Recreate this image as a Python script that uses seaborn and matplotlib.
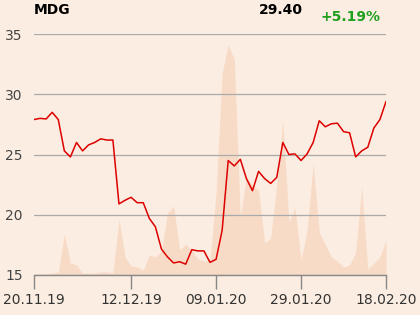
import matplotlib
matplotlib.use("Agg")
import matplotlib.pyplot as plt
import seaborn as sns
import pandas as pd

ticker = "MDG"
last_price = "29.40"
change = "+5.19%"

tick_labels = ["20.11.19", "12.12.19", "09.01.20", "29.01.20", "18.02.20"]
tick_pos = [0, 16, 30, 44, 58]

price = [27.9, 28.0, 27.95, 28.5, 27.9, 25.3, 24.8, 26.0, 25.3, 25.8,
         26.0, 26.3, 26.2, 26.2, 20.9, 21.2, 21.45, 21.0, 21.0, 19.7,
         19.0, 17.15, 16.5, 16.0, 16.1, 15.9, 17.1, 17.0, 17.0, 16.05,
         16.3, 18.7, 24.5, 24.05, 24.6, 23.0, 22.0, 23.6, 23.0, 22.6,
         23.1, 26.0, 25.0, 25.05, 24.5, 25.05, 26.0, 27.8, 27.3, 27.55,
         27.6, 26.9, 26.8, 24.8, 25.3, 25.6, 27.2, 27.9, 29.4]

volume = [1, 1, 1, 2, 3, 41, 12, 10, 2, 2,
          2, 3, 3, 2, 56, 18, 9, 8, 5, 20,
          18, 24, 62, 69, 25, 31, 25, 16, 14, 15,
          82, 202, 230, 216, 58, 98, 90, 85, 32, 37,
          90, 155, 53, 67, 15, 45, 112, 43, 30, 18,
          14, 8, 10, 23, 88, 6, 12, 18, 35]

df = pd.DataFrame({"x": range(len(price)), "price": price, "volume": volume})

bg = "#fbede1"
area_c = "#f8dbc6"
sns.set_theme(style="white")
plt.rcParams["font.family"] = ["DejaVu Sans"]

fig = plt.figure(figsize=(4.2, 3.15), dpi=100, facecolor=bg)
ax = fig.add_axes([34/420, 1-275/315, 352/420, 241/315])
ax2 = ax.twinx()
ax2.set_facecolor(bg)
ax.set_zorder(ax2.get_zorder() + 1)
ax.patch.set_visible(False)

ax2.fill_between(df["x"], 0, df["volume"], color=area_c, lw=0)
ax2.set_ylim(0, 241)
ax2.set_yticks([])
for s in ax2.spines.values():
    s.set_visible(False)

sns.lineplot(data=df, x="x", y="price", ax=ax, color="#dd0000", lw=1.1)
ax.set_xlim(0, 58)
ax.set_ylim(15, 35)
ax.set_yticks([15, 20, 25, 30, 35])
ax.yaxis.grid(True, color="#aaaaaa", lw=0.9)
ax.xaxis.grid(False)
ax.set_xticks(tick_pos)
ax.set_xticklabels(tick_labels)
ax.set_xlabel("")
ax.set_ylabel("")
for k in ["top", "right", "left"]:
    ax.spines[k].set_visible(False)
ax.spines["bottom"].set_color("#888888")
ax.spines["bottom"].set_linewidth(1.0)
ax.tick_params(axis="x", direction="out", length=10, width=1, color="#888888",
               labelsize=10, labelcolor="#333333", pad=3, bottom=True)
ax.tick_params(axis="y", length=0, labelsize=10, labelcolor="#444444", pad=8)

fig.text(34/420, 1-10/315, ticker, fontsize=10, fontweight="bold", ha="left", va="center", color="#000000")
fig.text(303/420, 1-10/315, last_price, fontsize=10, fontweight="bold", ha="right", va="center", color="#000000")
fig.text(380/420, 1-17/315, change, fontsize=10, fontweight="bold", ha="right", va="center", color="#1ea01e")

fig.savefig("out.png", dpi=100, facecolor=bg)
